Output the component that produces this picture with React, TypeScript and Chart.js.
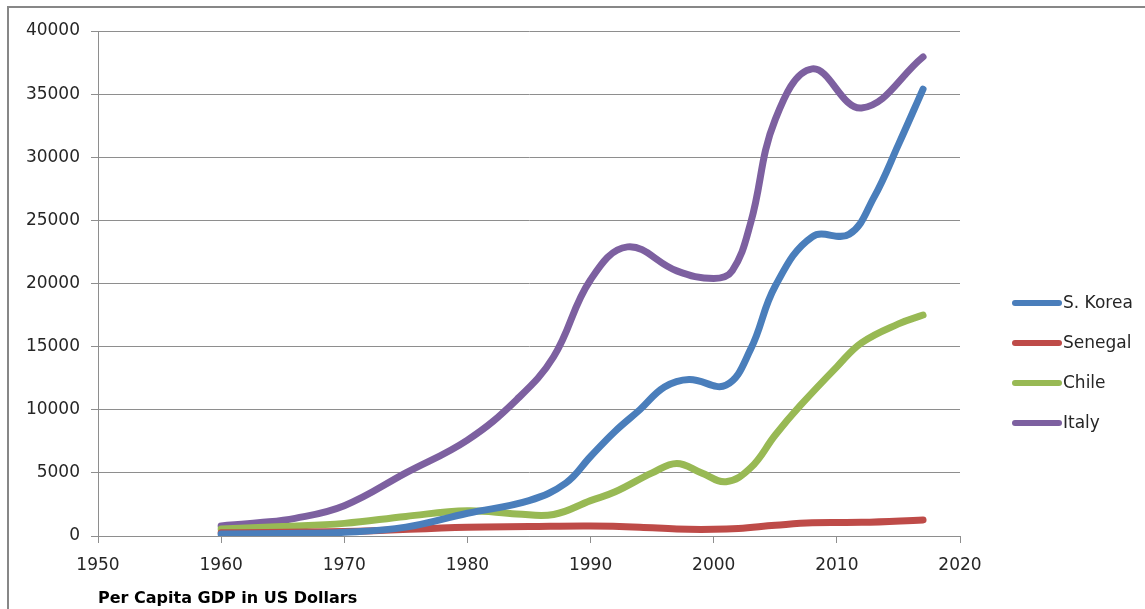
import React, { useEffect, useRef } from "react";
import { Chart, registerables } from "chart.js";

Chart.register(...registerables);

type Pt = { x: number; y: number };

const seriesNames = ["S. Korea", "Senegal", "Chile", "Italy"];
const seriesColors = ["#4A7EBB", "#BE4B48", "#98B954", "#7D60A0"];

const koreaYears = [1960, 1965, 1970, 1975, 1980, 1985, 1988, 1990, 1992, 1994, 1996, 1998, 2001, 2003, 2005, 2008, 2011, 2013, 2015, 2017];
const koreaValues = [150, 200, 300, 700, 1800, 2800, 4200, 6300, 8300, 10000, 11800, 12400, 11950, 14800, 19800, 23700, 23900, 26800, 31000, 35400];

const senegalYears = [1960, 1970, 1980, 1985, 1990, 1994, 1997, 2000, 2002, 2005, 2008, 2012, 2017];
const senegalValues = [250, 350, 700, 750, 790, 700, 550, 530, 600, 850, 1050, 1080, 1270];

const chileYears = [1960, 1965, 1970, 1975, 1980, 1984, 1987, 1990, 1992, 1995, 1997, 1999, 2001, 2003, 2005, 2007, 2010, 2012, 2015, 2017];
const chileValues = [550, 750, 1000, 1550, 2000, 1750, 1700, 2800, 3500, 5000, 5750, 5000, 4300, 5400, 8000, 10300, 13400, 15300, 16800, 17500];

const italyYears = [1960, 1963, 1966, 1970, 1975, 1980, 1984, 1987, 1990, 1993, 1997, 2000, 2001.5, 2003, 2005, 2008, 2012, 2017];
const italyValues = [800, 1050, 1400, 2400, 5000, 7600, 10800, 14200, 20300, 22900, 21000, 20400, 21000, 24800, 33000, 37000, 33900, 37950];

const xTicks = [1950, 1960, 1970, 1980, 1990, 2000, 2010, 2020];
const yTicks = [0, 5000, 10000, 15000, 20000, 25000, 30000, 35000, 40000];

const axisTitle = "Per Capita GDP in US Dollars";

const zip = (xs: number[], ys: number[]): Pt[] => xs.map((x, i) => ({ x, y: ys[i] }));

const FONT = "'DejaVu Sans', sans-serif";

const legendPlugin = {
  id: "excelLegend",
  afterDraw(chart: any) {
    const ctx = chart.ctx as CanvasRenderingContext2D;
    const area = chart.chartArea;
    const x0 = area.right + 53;
    const y0 = 303;
    const gap = 40;
    ctx.save();
    chart.data.datasets.forEach((ds: any, i: number) => {
      const y = y0 + i * gap;
      ctx.strokeStyle = ds.borderColor;
      ctx.lineWidth = 6;
      ctx.lineCap = "round";
      ctx.beginPath();
      ctx.moveTo(x0 + 2, y);
      ctx.lineTo(x0 + 46, y);
      ctx.stroke();
      ctx.fillStyle = "#262626";
      ctx.font = `17px ${FONT}`;
      ctx.textBaseline = "middle";
      ctx.textAlign = "left";
      ctx.fillText(ds.label, x0 + 50, y + 1);
    });
    ctx.restore();
  },
};

export default function App() {
  const ref = useRef<HTMLCanvasElement | null>(null);

  useEffect(() => {
    if (!ref.current) return;
    const seriesX = [koreaYears, senegalYears, chileYears, italyYears];
    const seriesY = [koreaValues, senegalValues, chileValues, italyValues];
    const chart = new Chart(ref.current, {
      type: "line",
      data: {
        datasets: seriesNames.map((name, i) => ({
          label: name,
          data: zip(seriesX[i], seriesY[i]),
          borderColor: seriesColors[i],
          backgroundColor: seriesColors[i],
          borderWidth: 7,
          borderCapStyle: "round" as const,
          borderJoinStyle: "round" as const,
          pointRadius: 0,
          pointHoverRadius: 0,
          tension: 0.4,
          fill: false,
        })),
      },
      options: {
        animation: false,
        responsive: false,
        maintainAspectRatio: false,
        devicePixelRatio: 1,
        layout: { padding: { top: 31, right: 185, bottom: 0, left: 0 } },
        plugins: {
          legend: { display: false },
          tooltip: { enabled: false },
          title: { display: false },
        },
        scales: {
          x: {
            type: "linear",
            min: xTicks[0],
            max: xTicks[xTicks.length - 1],
            afterBuildTicks: (scale: any) => {
              scale.ticks = xTicks.map((v) => ({ value: v }));
            },
            afterFit: (scale: any) => {
              scale.height = 73;
            },
            ticks: {
              callback: (v: any) => String(v),
              color: "#262626",
              font: { family: FONT, size: 17 },
              padding: 12,
              maxRotation: 0,
              autoSkip: false,
            },
            grid: {
              display: true,
              drawOnChartArea: false,
              drawTicks: true,
              tickLength: 7,
              color: "#8E8E8E",
              lineWidth: 1,
            },
            border: { display: true, color: "#8E8E8E", width: 1 },
            title: {
              display: true,
              text: axisTitle,
              align: "start",
              color: "#000000",
              font: { family: FONT, size: 16, weight: "bold" },
              padding: { top: 0, bottom: 1 },
            },
          },
          y: {
            type: "linear",
            min: yTicks[0],
            max: yTicks[yTicks.length - 1],
            afterBuildTicks: (scale: any) => {
              scale.ticks = yTicks.map((v) => ({ value: v }));
            },
            afterFit: (scale: any) => {
              scale.width = 98;
            },
            ticks: {
              callback: (v: any) => String(v),
              color: "#262626",
              font: { family: FONT, size: 17 },
              padding: 11,
            },
            grid: {
              display: true,
              drawOnChartArea: true,
              drawTicks: true,
              tickLength: 7,
              color: "#8E8E8E",
              lineWidth: 1,
            },
            border: { display: true, color: "#8E8E8E", width: 1 },
          },
        },
      } as any,
      plugins: [legendPlugin],
    });
    return () => chart.destroy();
  }, []);

  return (
    <div style={{ position: "absolute", left: 0, top: 0, width: 1145, height: 609, background: "#ffffff", overflow: "hidden" }}>
      <div
        style={{
          position: "absolute",
          left: 7,
          top: 6,
          right: -10,
          bottom: -10,
          borderLeft: "2px solid #878787",
          borderTop: "2px solid #878787",
        }}
      />
      <canvas ref={ref} width={1145} height={609} style={{ position: "absolute", left: 0, top: 0, width: 1145, height: 609 }} />
    </div>
  );
}
